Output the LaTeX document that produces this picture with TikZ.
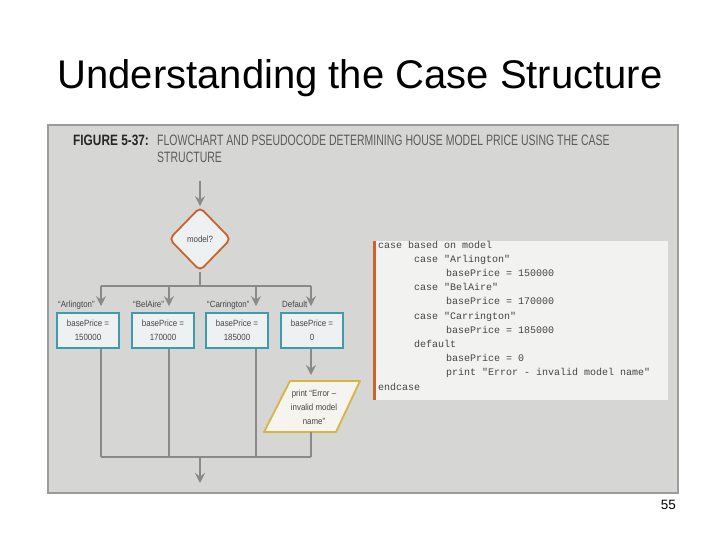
\documentclass[tikz,border=0pt]{standalone}
\usepackage{fontspec}
\setmainfont{Liberation Sans}
\newfontfamily\condf[FakeStretch=0.88]{Liberation Sans}
\newfontfamily\capf[FakeStretch=0.70]{Liberation Sans}
\newfontfamily\figf[FakeStretch=0.79]{Liberation Sans}
\newfontfamily\codef{Liberation Mono}
\usetikzlibrary{shapes.geometric,arrows.meta}
\definecolor{panelfill}{HTML}{D6D6D4}
\definecolor{panelline}{HTML}{9C9C9C}
\definecolor{linegray}{HTML}{8A8A8A}
\definecolor{diaorange}{HTML}{C8642D}
\definecolor{boxteal}{HTML}{3D9AB5}
\definecolor{boxfill}{HTML}{EEF1F2}
\definecolor{pargold}{HTML}{D8B443}
\definecolor{parfill}{HTML}{F5F4EE}
\definecolor{codefill}{HTML}{F2F2F1}
\definecolor{codetext}{HTML}{454545}
\definecolor{captext}{HTML}{5C5C5C}
\tikzset{
  ln/.style={draw=linegray, line width=2.2pt},
  arr/.style={ln, -{Stealth[length=10pt,width=10pt,inset=3.5pt]}},
  procbox/.style={draw=boxteal, fill=boxfill, line width=1.8pt, minimum width=62pt, minimum height=35pt, inner sep=0pt, align=center, font=\condf\fontsize{9}{14}\selectfont, text=codetext},
  decide/.style={diamond, draw=diaorange, fill=boxfill, line width=1.8pt, rounded corners=5pt, minimum width=62pt, minimum height=64pt, inner sep=0pt, font=\condf\fontsize{9}{10}\selectfont, text=codetext},
  lbl/.style={anchor=base west, inner sep=0pt, font=\condf\fontsize{9}{10}\selectfont, text=codetext},
  codeline/.style={anchor=base west, inner sep=0pt, font=\codef\fontsize{10}{12}\selectfont, text=codetext}
}
\begin{document}
\begin{tikzpicture}[x=1pt,y=-1pt]
\useasboundingbox (0,0) rectangle (720,540);
\fill[white] (0,0) rectangle (720,540);
% title
\node[anchor=base, inner sep=0pt, font=\fontsize{40}{44}\selectfont] (title) at (360,89) {Understanding the Case Structure};
% panel
\draw[fill=panelfill, draw=panelline, line width=1.5pt] (48,125) rectangle (678,493);
\node[anchor=base west, inner sep=0pt, font=\figf\bfseries\fontsize{15}{18}\selectfont, text=black!85] (fig) at (73,146) {FIGURE 5-37:};
\node[anchor=base west, inner sep=0pt, font=\capf\fontsize{15}{18}\selectfont, text=captext] (cap1) at (157,146) {FLOWCHART AND PSEUDOCODE DETERMINING HOUSE MODEL PRICE USING THE CASE};
\node[anchor=base west, inner sep=0pt, font=\capf\fontsize{15}{18}\selectfont, text=captext] (cap2) at (157,163) {STRUCTURE};
% flowchart
\coordinate (start) at (200,181);
\node[decide] (dia) at (200,239) {model?};
\draw[arr] (start) -- (dia.north);
\coordinate (j) at (200,286);
\coordinate (j1) at (101,286);
\coordinate (j2) at (169,286);
\coordinate (j3) at (256,286);
\coordinate (j4) at (311,286);
\draw[ln] (dia.south) -- (j);
\draw[ln] (j1) -- (j4);
\node[procbox] (b1) at (88,330.5) {basePrice =\\150000};
\node[procbox] (b2) at (163,330.5) {basePrice =\\170000};
\node[procbox] (b3) at (237,330.5) {basePrice =\\185000};
\node[procbox] (b4) at (312,330.5) {basePrice =\\0};
\draw[arr, shorten >=6pt] (j1) -- (j1 |- b1.north);
\draw[arr, shorten >=6pt] (j2) -- (j2 |- b2.north);
\draw[arr, shorten >=6pt] (j3) -- (j3 |- b3.north);
\draw[arr, shorten >=6pt] (j4) -- (j4 |- b4.north);
\node[lbl] (l1) at (58,307) {“Arlington”};
\node[lbl] (l2) at (133,307) {“BelAire”};
\node[lbl] (l3) at (207,307) {“Carrington”};
\node[lbl] (l4) at (282,307) {Default};
% parallelogram
\coordinate (p1) at (290,381);
\coordinate (p2) at (360,381);
\coordinate (p3) at (336,432);
\coordinate (p4) at (264,432);
\draw[draw=pargold, fill=parfill, line width=1.8pt, line join=round] (p1) -- (p2) -- (p3) -- (p4) -- cycle;
\node[align=center, inner sep=0pt, font=\condf\fontsize{9}{14}\selectfont, text=codetext] (par) at (314,407) {print “Error –\\invalid model\\name”};
\coordinate (ptop) at (311,381);
\coordinate (pbot) at (311,432);
\draw[arr, shorten >=6pt] (b4.south -| j4) -- (ptop);
% merge
\coordinate (k1) at (101,457);
\coordinate (k2) at (169,457);
\coordinate (k3) at (256,457);
\coordinate (k4) at (311,457);
\coordinate (k) at (200,457);
\coordinate (endp) at (200,483);
\draw[ln] (b1.south -| k1) -- (k1);
\draw[ln, line width=1.8pt] (b2.south -| k2) -- (k2);
\draw[ln, line width=1.4pt] (b3.south -| k3) -- (k3);
\draw[ln] (pbot) -- (k4);
\draw[ln] (k1) -- (k4);
\draw[arr] (k) -- (endp);
% pseudocode
\fill[codefill] (373,241) rectangle (668,400);
\draw[draw=diaorange, line width=3pt] (374.5,241) -- (374.5,400);
\node[codeline] (c1) at (378,248) {case based on model};
\node[codeline] (c2) at (414,262.2) {case "Arlington"};
\node[codeline] (c3) at (446,276.4) {basePrice = 150000};
\node[codeline] (c4) at (414,290.6) {case "BelAire"};
\node[codeline] (c5) at (446,304.8) {basePrice = 170000};
\node[codeline] (c6) at (414,319) {case "Carrington"};
\node[codeline] (c7) at (446,333.2) {basePrice = 185000};
\node[codeline] (c8) at (414,347.4) {default};
\node[codeline] (c9) at (446,361.6) {basePrice = 0};
\node[codeline] (c10) at (446,375.8) {print "Error - invalid model name"};
\node[codeline] (c11) at (378,390) {endcase};
% page number
\node[anchor=base east, inner sep=0pt, font=\fontsize{13.5}{16}\selectfont] (pg) at (676,509) {55};
\end{tikzpicture}
\end{document}
